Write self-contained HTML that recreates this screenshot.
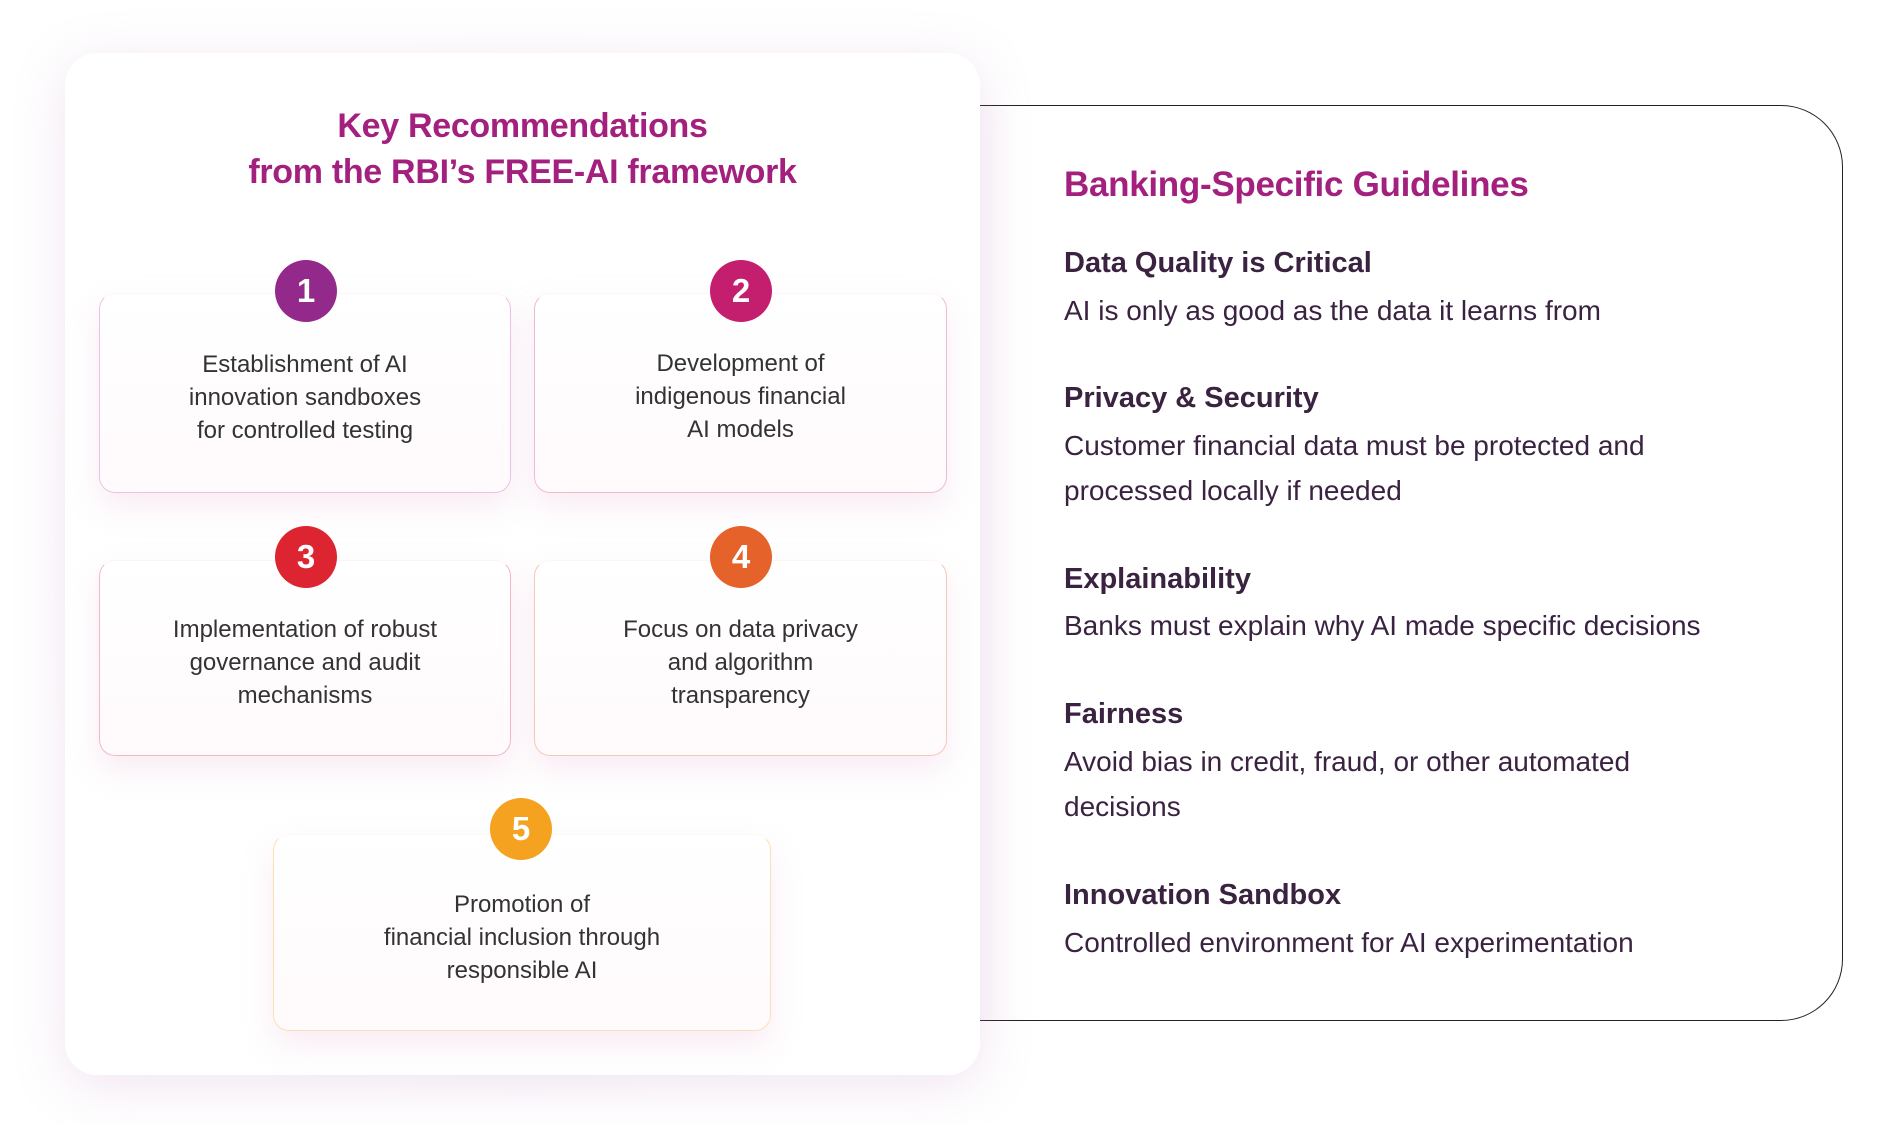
<!DOCTYPE html>
<html><head><meta charset="utf-8"><style>
*{margin:0;padding:0;box-sizing:border-box}
body{width:1890px;height:1125px;background:#fff;position:relative;overflow:hidden;font-family:"Liberation Sans",sans-serif}
.abs{position:absolute}
.glow{position:absolute;left:30px;top:20px;width:990px;height:1100px;border-radius:60px;background:radial-gradient(ellipse at 50% 50%,rgba(235,215,235,.55),rgba(255,255,255,0) 70%)}
.right{left:900px;top:105px;width:943px;height:916px;border:1.6px solid #222;border-left:none;border-radius:0 62px 62px 0;background:linear-gradient(90deg,#f6eef6 0,#fff 120px,#fff)}
.left{left:65px;top:53px;width:915px;height:1022px;border-radius:32px;background:#fff;box-shadow:0 10px 50px rgba(200,150,200,.25)}
.title{left:65px;width:915px;top:103px;text-align:center;color:#a3207e;font-weight:bold;font-size:34px;line-height:46px;letter-spacing:-0.3px}
.card{position:absolute;border-radius:16px;background:linear-gradient(180deg,#fff 0,#fffafc 100%);box-shadow:0 14px 30px rgba(230,180,210,.25)}
.c{position:absolute;width:62px;height:62px;border-radius:50%;color:#fff;font-weight:bold;font-size:33px;line-height:62px;text-align:center}
.t{position:absolute;text-align:center;color:#333;font-size:24px;line-height:33px}
.rh{position:absolute;left:1064px;color:#3a2340;font-weight:bold;font-size:29px}
.rb{position:absolute;left:1064px;color:#3a2340;font-size:28px;line-height:45px}
</style></head><body>
<div class="glow"></div>
<div class="abs right"></div>
<div class="abs left"></div>
<div class="abs title">Key Recommendations<br>from the RBI’s FREE-AI framework</div>

<div class="card" style="left:99px;top:293px;width:412px;height:200px;border:1.3px solid #e8c3e3;border-top-color:#fbf4fa"></div>
<div class="card" style="left:534px;top:293px;width:413px;height:200px;border:1.3px solid #f1bad3;border-top-color:#fcf4f8"></div>
<div class="card" style="left:99px;top:560px;width:412px;height:196px;border:1.3px solid #f3b9bf;border-top-color:#fdf4f5"></div>
<div class="card" style="left:534px;top:560px;width:413px;height:196px;border:1.3px solid #f7c8b4;border-top-color:#fdf6f2"></div>
<div class="card" style="left:273px;top:834px;width:498px;height:197px;border:1.3px solid #fbe0b5;border-top-color:#fefaf2"></div>

<div class="c" style="left:275px;top:260px;background:#93298a">1</div>
<div class="c" style="left:710px;top:260px;background:#c41e6f">2</div>
<div class="c" style="left:275px;top:526px;background:#dd2532">3</div>
<div class="c" style="left:710px;top:526px;background:#e5622b">4</div>
<div class="c" style="left:490px;top:798px;background:#f4a21f">5</div>

<div class="t" style="left:99px;width:412px;top:348px">Establishment of AI<br>innovation sandboxes<br>for controlled testing</div>
<div class="t" style="left:534px;width:413px;top:347px">Development of<br>indigenous financial<br>AI models</div>
<div class="t" style="left:99px;width:412px;top:613px">Implementation of robust<br>governance and audit<br>mechanisms</div>
<div class="t" style="left:534px;width:413px;top:613px">Focus on data privacy<br>and algorithm<br>transparency</div>
<div class="t" style="left:273px;width:498px;top:888px">Promotion of<br>financial inclusion through<br>responsible AI</div>

<div class="abs" style="left:1064px;top:165px;color:#a3207e;font-weight:bold;font-size:35px;letter-spacing:-0.3px">Banking-Specific Guidelines</div>
<div class="rh" style="top:247px">Data Quality is Critical</div>
<div class="rb" style="top:288px">AI is only as good as the data it learns from</div>
<div class="rh" style="top:382px">Privacy &amp; Security</div>
<div class="rb" style="top:423px">Customer financial data must be protected and<br>processed locally if needed</div>
<div class="rh" style="top:563px">Explainability</div>
<div class="rb" style="top:603px">Banks must explain why AI made specific decisions</div>
<div class="rh" style="top:698px">Fairness</div>
<div class="rb" style="top:739px">Avoid bias in credit, fraud, or other automated<br>decisions</div>
<div class="rh" style="top:879px">Innovation Sandbox</div>
<div class="rb" style="top:920px">Controlled environment for AI experimentation</div>
</body></html>
